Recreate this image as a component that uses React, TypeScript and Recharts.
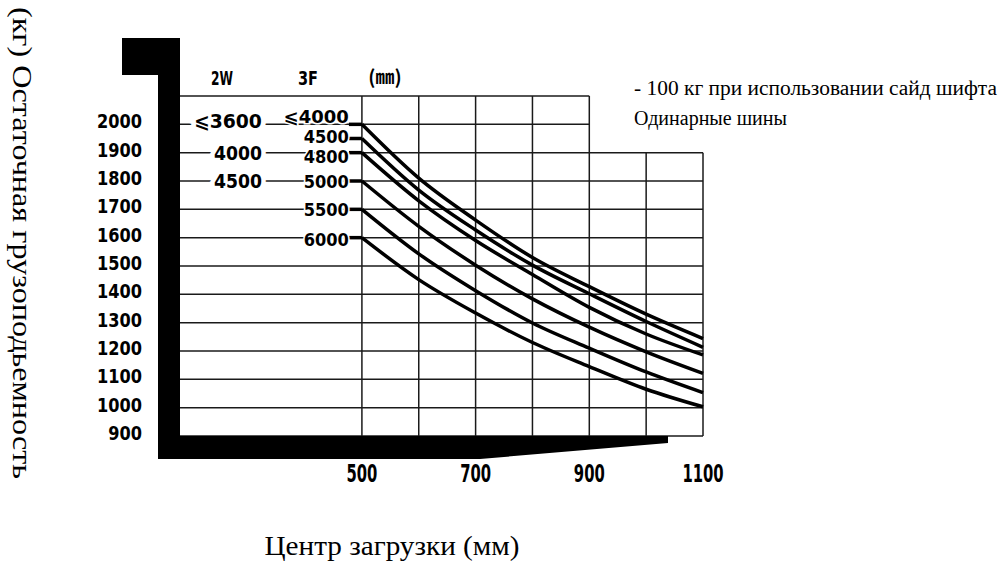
import { LineChart, Line, XAxis, YAxis, ReferenceLine, LabelList } from 'recharts';

// load centre (mm) at each vertical grid line
const centers = [500, 600, 700, 800, 900, 1000, 1100];

// residual capacity (kg) per lift height, 3F mast
const cap4000 = [2000, 1810, 1662, 1530, 1427, 1330, 1244];
const cap4500 = [1950, 1768, 1627, 1503, 1402, 1304, 1213];
const cap4800 = [1900, 1730, 1590, 1470, 1354, 1260, 1186];
const cap5000 = [1800, 1640, 1503, 1384, 1284, 1197, 1121];
const cap5500 = [1700, 1543, 1413, 1299, 1210, 1126, 1053];
const cap6000 = [1600, 1452, 1334, 1230, 1145, 1065, 1003];

const mast3F = ['⩽4000', '4500', '4800', '5000', '5500', '6000'];
const mast2W = ['⩽3600', '', '4000', '4500', '', ''];

const yTicks = [900, 1000, 1100, 1200, 1300, 1400, 1500, 1600, 1700, 1800, 1900, 2000];
const xTicks = [500, 700, 900, 1100];

const series = [cap4000, cap4500, cap4800, cap5000, cap5500, cap6000];
const data = centers.map((c, i) => {
  const row: Record<string, number> = { x: c };
  series.forEach((s, k) => { row[`s${k}`] = s[i]; });
  return row;
});

const digitFont = "'DejaVu Sans Condensed', 'Liberation Sans Narrow', 'DejaVu Sans', sans-serif";
const serif = "'Liberation Serif', 'DejaVu Serif', serif";
const ink = '#000';
const gridInk = '#1a1a1a';

// labels sit a touch off their lines in the original
const labelNudge = [-7, -2, 4, 1, 1, 2];

const digitsWidth = (s: string, per: number) => {
  const d = s.replace(/[^0-9]/g, '').length;
  return d * per + (s.length > d ? 20 : 0);
};

const YTick = ({ x, y, payload }: any) => (
  <text x={x - 30} y={y - 3} textAnchor="end" dominantBaseline="central"
    textLength={String(payload.value).length * 11.25} lengthAdjust="spacingAndGlyphs"
    style={{ fontFamily: digitFont, fontWeight: 700, fontSize: 20, fill: ink }}>
    {payload.value}
  </text>
);

const XTick = ({ x, y, payload }: any) => (
  <text x={x} y={y + 30} textAnchor="middle" dominantBaseline="central"
    textLength={String(payload.value).length * 10.3} lengthAdjust="spacingAndGlyphs"
    style={{ fontFamily: digitFont, fontWeight: 700, fontSize: 24, fill: ink }}>
    {payload.value}
  </text>
);

const labelStyle = {
  fontFamily: digitFont,
  fontWeight: 700,
  fontSize: 17,
  fill: ink,
  stroke: '#fff',
  strokeWidth: 3,
  paintOrder: 'stroke',
} as const;

const startLabel = (k: number) => (props: any) => {
  const { x, y, index } = props;
  if (index !== 0) return null;
  const ly = y + labelNudge[k];
  return (
    <g>
      <line x1={x - 13} y1={y} x2={x} y2={y} stroke={ink} strokeWidth={3.5} />
      <text x={x - 13} y={ly} textAnchor="end" dominantBaseline="central"
        textLength={digitsWidth(mast3F[k], 11.3)} lengthAdjust="spacingAndGlyphs" style={labelStyle}>
        {mast3F[k]}
      </text>
      {mast2W[k] ? (
        <text x={x - 100} y={y + (k === 0 ? -3 : 0)} textAnchor="end" dominantBaseline="central"
          textLength={digitsWidth(mast2W[k], 12)} lengthAdjust="spacingAndGlyphs"
          style={{ ...labelStyle, fontSize: 19, strokeWidth: 9 }}>
          {mast2W[k]}
        </text>
      ) : null}
    </g>
  );
};

const rows = [900, 1000, 1100, 1200, 1300, 1400, 1500, 1600, 1700, 1800, 1900];
const topRows = [2000, 2100];
const cols = [500, 600, 700, 800, 900];
const rightCols = [1000, 1100];

export default function App() {
  return (
    <div style={{ position: 'absolute', left: 0, top: 0, width: 1005, height: 564, background: '#fff' }}>
      <LineChart width={1005} height={564} data={data} margin={{ top: 96, right: 302, bottom: 98, left: 120 }}>
        <XAxis dataKey="x" type="number" domain={[180, 1100]} ticks={xTicks} axisLine={false} tickLine={false} tick={<XTick />} height={30} />
        <YAxis type="number" domain={[900, 2100]} ticks={yTicks} axisLine={false} tickLine={false} tick={<YTick />} width={60} />
        {rows.map((v) => (
          <ReferenceLine key={`r${v}`} segment={[{ x: 180, y: v }, { x: 1100, y: v }]} stroke={gridInk} strokeWidth={1.5} ifOverflow="visible" />
        ))}
        {topRows.map((v) => (
          <ReferenceLine key={`t${v}`} segment={[{ x: 180, y: v }, { x: 900, y: v }]} stroke={gridInk} strokeWidth={1.5} ifOverflow="visible" />
        ))}
        {cols.map((v) => (
          <ReferenceLine key={`c${v}`} segment={[{ x: v, y: 900 }, { x: v, y: 2100 }]} stroke={gridInk} strokeWidth={1.5} ifOverflow="visible" />
        ))}
        {rightCols.map((v) => (
          <ReferenceLine key={`rc${v}`} segment={[{ x: v, y: 900 }, { x: v, y: 1900 }]} stroke={gridInk} strokeWidth={1.5} ifOverflow="visible" />
        ))}
        {series.map((_, k) => (
          <Line key={k} dataKey={`s${k}`} type="monotone" stroke={ink} strokeWidth={3.5} dot={false} isAnimationActive={false}>
            <LabelList dataKey={`s${k}`} content={startLabel(k)} />
          </Line>
        ))}
      </LineChart>
      <svg width={1005} height={564} style={{ position: 'absolute', left: 0, top: 0, pointerEvents: 'none' }}>
        <polygon points="122,38 180,38 180,436 668,436 668,443 480,459 158,459 158,75 122,75" fill={ink} />
        <text x={222} y={78} textAnchor="middle" dominantBaseline="central" textLength={22} lengthAdjust="spacingAndGlyphs" style={{ fontFamily: digitFont, fontWeight: 700, fontSize: 20 }}>2W</text>
        <text x={308} y={78} textAnchor="middle" dominantBaseline="central" textLength={20} lengthAdjust="spacingAndGlyphs" style={{ fontFamily: digitFont, fontWeight: 700, fontSize: 20 }}>3F</text>
        <text x={385} y={75} textAnchor="middle" dominantBaseline="central" style={{ fontFamily: "'Noto Sans CJK SC', sans-serif", fontWeight: 700, fontSize: 19 }}>(㎜)</text>
        <text x={634} y={88} dominantBaseline="central" textLength={363} lengthAdjust="spacingAndGlyphs" style={{ fontFamily: serif, fontSize: 20 }}>- 100 кг при использовании сайд шифта</text>
        <text x={634} y={118} dominantBaseline="central" style={{ fontFamily: serif, fontSize: 20 }}>Одинарные шины</text>
        <text x={392} y={545} textAnchor="middle" dominantBaseline="central" textLength={255} lengthAdjust="spacingAndGlyphs" style={{ fontFamily: serif, fontSize: 28 }}>Центр загрузки (мм)</text>
        <text x={22} y={243} textAnchor="middle" dominantBaseline="central" transform="rotate(90 22 243)" textLength={472} lengthAdjust="spacingAndGlyphs" style={{ fontFamily: serif, fontSize: 28 }}>(кг) Остаточная грузоподьемность</text>
      </svg>
    </div>
  );
}
